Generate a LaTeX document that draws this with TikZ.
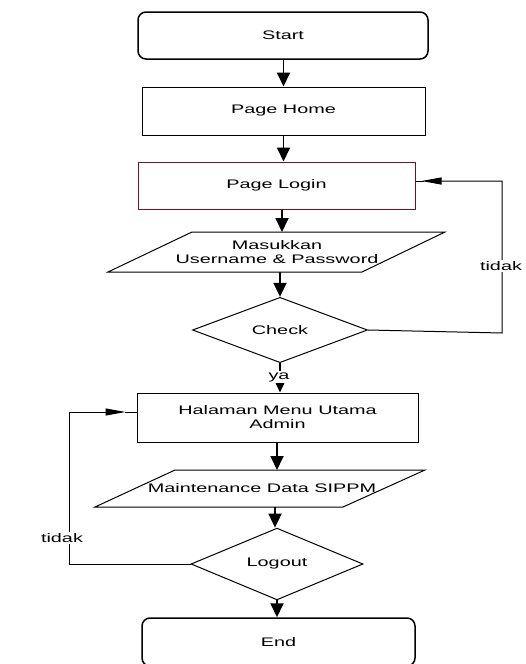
\documentclass[tikz,border=0pt]{standalone}
\usepackage{fontspec}
\setmainfont[FakeStretch=1.6]{Liberation Sans}
\usetikzlibrary{shapes.geometric,arrows.meta}
\definecolor{loginred}{RGB}{110,25,25}
\begin{document}
\begin{tikzpicture}[x=1pt,y=-1pt,
  txt/.style={font=\fontsize{12.4}{14}\selectfont, text=black, align=center},
  termbox/.style={txt, draw, line width=1.5pt, rounded corners=8pt, inner sep=0pt},
  procbox/.style={txt, draw, line width=1pt, inner sep=0pt},
  decision/.style={txt, draw, diamond, line width=1pt, inner sep=0pt},
  para/.style={draw, line width=1pt},
  vflow/.style={line width=1.8pt, -{Triangle[width=13pt,length=14pt]}},
  smallflow/.style={line width=1.5pt, -{Triangle[width=9pt,length=10pt]}},
  hflow/.style={line width=1pt, -{Triangle[width=7pt,length=20pt]}},
  plain/.style={line width=1pt},
  lbl/.style={txt, fill=white, inner sep=1pt}
]
\useasboundingbox (0,0) rectangle (525,664);

% nodes
\node[termbox, minimum width=290pt, minimum height=47pt] (start) at (283,35.5) {Start};
\node[procbox, minimum width=283pt, minimum height=48pt] (home) at (283.5,111) {Page Home};
\node[procbox, draw=loginred, minimum width=277pt, minimum height=47pt] (login) at (276.5,185.5) {Page Login};

\draw[para] (192,232) -- (445,232) -- (362,272) -- (108,272) -- cycle;
\node[txt] (mas) at (277,252) {Masukkan\\Username \& Password};
\coordinate (masN) at (282,232);
\coordinate (masS) at (280,272);

\node[decision, minimum width=175pt, minimum height=62pt] (check) at (280,330) {Check};

\node[procbox, minimum width=281pt, minimum height=49pt] (menu) at (277.5,417.5) {Halaman Menu Utama\\Admin};

\draw[para] (175,470) -- (425,470) -- (343,507) -- (95,507) -- cycle;
\node[txt] (mdata) at (262,488) {Maintenance Data SIPPM};
\coordinate (mdN) at (277,470);
\coordinate (mdS) at (275,507);

\node[decision, minimum width=172pt, minimum height=62pt] (logout) at (277,564) {Logout};

\node[termbox, minimum width=273pt, minimum height=48pt] (end) at (278.5,642) {End};

% flow arrows
\draw[vflow] (start.south -| home.north) -- (home.north);
\draw[vflow] (home.south) -- (home.south |- login.north);
\draw[vflow] (masN |- login.south) -- (masN);
\draw[vflow] (masS) -- (check.north);
\draw[smallflow] (check.south) -- (check.south |- menu.north);
\node[lbl] (ya) at (279,377) {ya};
\draw[vflow] (mdN |- menu.south) -- (mdN);
\draw[vflow] (mdS) -- (mdS |- logout.north);
\draw[vflow] (logout.south) -- (logout.south |- end.north);

% right loop (tidak)
\coordinate (r1) at (502,333);
\coordinate (r2) at (502,181);
\draw[hflow, shorten >=6pt] (check.east) -- (r1) -- (r2) -- (login.east |- r2);
\draw[plain] (login.east |- r2) -- ++(8,0);
\node[lbl] (tidak1) at (501,266) {tidak};

% left loop (tidak)
\coordinate (l1) at (69,564);
\coordinate (l2) at (69,412);
\draw[hflow, shorten >=11pt] (logout.west) -- (l1) -- (l2) -- (menu.west |- l2);
\draw[plain] (menu.west |- l2) -- ++(-12,0);
\node[lbl] (tidak2) at (62,538) {tidak};
\end{tikzpicture}
\end{document}
